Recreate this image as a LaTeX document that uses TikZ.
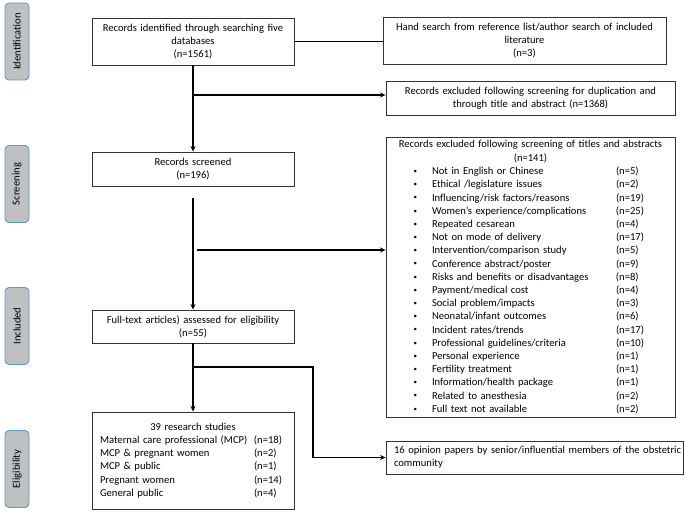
\documentclass[tikz,border=0pt]{standalone}
\usepackage{fontspec}
\setmainfont{Carlito}
\usetikzlibrary{arrows.meta}
\definecolor{sidegray}{RGB}{192,192,192}
\definecolor{sideblue}{RGB}{98,150,214}
\definecolor{boxline}{RGB}{50,50,50}
\newcommand\myfs{\fontsize{10.6}{13.2}\selectfont}
\newcommand\mybul{\raisebox{1.2pt}{\fontsize{7}{7}\selectfont\textbullet}}
\newcommand\exi[2]{\makebox[289pt][l]{\hspace*{27.5pt}\makebox[18.5pt][l]{\mybul}\makebox[184pt][l]{#1}#2}}
\newcommand\sti[2]{\makebox[202pt][l]{\hspace*{8pt}\makebox[154pt][l]{#1}#2}}
\tikzset{
  box/.style={draw=boxline, line width=0.9pt, inner sep=0pt, align=center, font=\myfs},
  side/.style={draw=sideblue, fill=sidegray, rounded corners=4pt, line width=0.9pt,
    minimum width=77pt, minimum height=24pt, inner sep=0pt, rotate=90, font=\myfs},
  arr/.style={line width=1.1pt, -{Stealth[length=5.5pt,width=5pt]}},
  ln/.style={line width=1.1pt}
}
\begin{document}
\begin{tikzpicture}[x=1pt,y=-1pt]
\useasboundingbox (0,0) rectangle (685,516);
% side labels
\node[side] (sid) at (17,41.5) {Identification};
\node[side] (sscr) at (17,184) {Screening};
\node[side] (sinc) at (17,326) {Included};
\node[side] (selg) at (17,469) {Eligibility};
% boxes
\node[box, text width=202pt, minimum height=47pt] (b1) at (193,41.5)
  {Records identified through searching five\\databases\\(n=1561)};
\node[box, text width=283pt, minimum height=47pt] (hs) at (524.5,40.5)
  {Hand search from reference list/author search of included\\literature\\(n=3)};
\node[box, text width=289pt, minimum height=34pt] (ex1) at (530.5,98)
  {Records excluded following screening for duplication and\\through title and abstract (n=1368)};
\node[box, text width=202pt, minimum height=34pt] (scr) at (193,169)
  {Records screened\\(n=196)};
\node[box, text width=289pt, minimum height=280pt] (ex2) at (530.5,277)
  {Records excluded following screening of titles and abstracts\\[0.8pt](n=141)\\
   \exi{Not in English or Chinese}{(n=5)}\\
   \exi{Ethical /legislature issues}{(n=2)}\\
   \exi{Influencing/risk factors/reasons}{(n=19)}\\
   \exi{Women’s experience/complications}{(n=25)}\\
   \exi{Repeated cesarean}{(n=4)}\\
   \exi{Not on mode of delivery}{(n=17)}\\
   \exi{Intervention/comparison study}{(n=5)}\\
   \exi{Conference abstract/poster}{(n=9)}\\
   \exi{Risks and benefits or disadvantages}{(n=8)}\\
   \exi{Payment/medical cost}{(n=4)}\\
   \exi{Social problem/impacts}{(n=3)}\\
   \exi{Neonatal/infant outcomes}{(n=6)}\\
   \exi{Incident rates/trends}{(n=17)}\\
   \exi{Professional guidelines/criteria}{(n=10)}\\
   \exi{Personal experience}{(n=1)}\\
   \exi{Fertility treatment}{(n=1)}\\
   \exi{Information/health package}{(n=1)}\\
   \exi{Related to anesthesia}{(n=2)}\\
   \exi{Full text not available}{(n=2)}};
\node[box, text width=202pt, minimum height=33pt] (ft) at (193,326.5)
  {Full-text articles) assessed for eligibility\\(n=55)};
\node[box, text width=202pt, minimum height=97pt] (st) at (193,460.5)
  {39 research studies\\
   \sti{Maternal care professional (MCP)}{(n=18)}\\
   \sti{MCP \& pregnant women}{(n=2)}\\
   \sti{MCP \& public}{(n=1)}\\
   \sti{Pregnant women}{(n=14)}\\
   \sti{General public}{(n=4)}};
\node[box, align=left, text width=281pt, inner xsep=8pt, minimum height=33pt] (op) at (534.5,457.5)
  {\mbox{16 opinion papers by senior/influential members of the obstetric}\\community};
% connectors
\draw[ln] (b1.east) -- (b1.east -| hs.west);
\draw[arr] (b1.south) -- (scr.north);
\coordinate (j1) at (193,95);
\draw[arr] (j1) -- (j1 -| ex1.west);
\coordinate (j2) at (193,198);
\draw[arr] (j2) -- (ft.north);
\coordinate (j3) at (197,250);
\draw[arr] (j3) -- (j3 -| ex2.west);
\draw[arr] (ft.south) -- (st.north);
\coordinate (j4) at (193,367);
\coordinate (j5) at (313,367);
\draw[arr] (j4) -- (j5) |- (op.west);
\end{tikzpicture}
\end{document}
